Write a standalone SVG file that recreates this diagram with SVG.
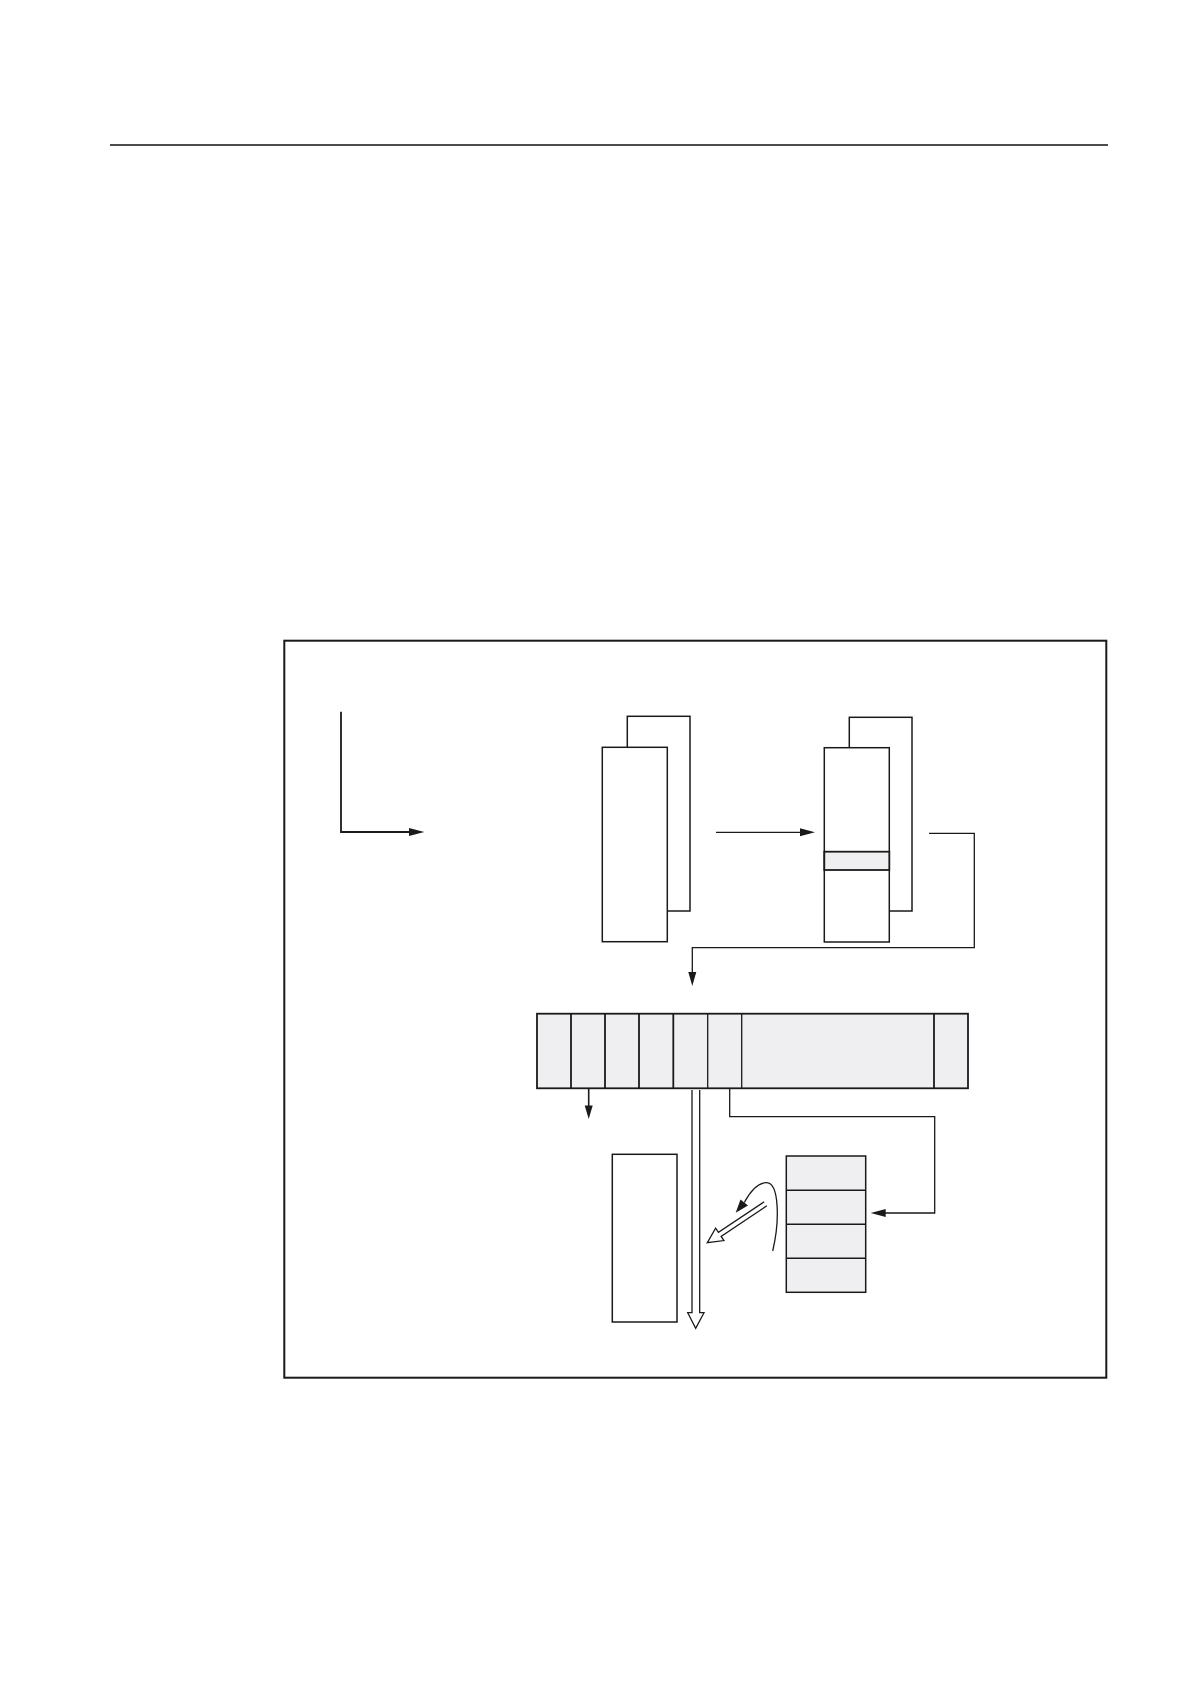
<svg xmlns="http://www.w3.org/2000/svg" width="1190" height="1684" viewBox="0 0 1190 1684">
<style>
.ln{fill:none;stroke:#1a1a1a;stroke-width:1.3}
.bx{fill:#fff;stroke:#1a1a1a;stroke-width:1.5}
.gr{fill:#efeff1;stroke:#1a1a1a;stroke-width:1.8}
.ah{fill:#1a1a1a;stroke:none}
.ho{fill:#fff;stroke:#1a1a1a;stroke-width:1.3;stroke-linejoin:miter}
</style>
<rect width="1190" height="1684" fill="#fff"/>
<line x1="110" y1="145" x2="1108" y2="145" stroke="#111" stroke-width="1.6"/>
<rect id="frame" x="284.3" y="640.7" width="822" height="737" fill="none" stroke="#1a1a1a" stroke-width="2"/>

<g id="stack-left">
<rect x="627.3" y="716.3" width="62.7" height="194.7" class="bx"/>
<rect x="602.3" y="747.3" width="65" height="194.4" class="bx"/>
</g>
<g id="stack-right">
<rect x="849.3" y="717.3" width="62.7" height="193.7" class="bx"/>
<rect x="824.3" y="747.7" width="65" height="194.3" class="bx"/>
<rect x="824.3" y="851.7" width="65" height="18.3" class="gr"/>
</g>
<g id="register">
<rect x="537" y="1013.7" width="431" height="74.6" class="gr"/>
<line x1="571" y1="1013.7" x2="571" y2="1088.3" class="gr"/>
<line x1="605" y1="1013.7" x2="605" y2="1088.3" class="gr"/>
<line x1="639" y1="1013.7" x2="639" y2="1088.3" class="gr"/>
<line x1="673.3" y1="1013.7" x2="673.3" y2="1088.3" class="gr"/>
<line x1="707.7" y1="1013.7" x2="707.7" y2="1088.3" class="gr" style="stroke-width:1.3"/>
<line x1="741.7" y1="1013.7" x2="741.7" y2="1088.3" class="gr" style="stroke-width:1.3"/>
<line x1="934" y1="1013.7" x2="934" y2="1088.3" class="gr"/>
</g>
<g id="box-lower">
<rect x="612.3" y="1154.3" width="64.7" height="167.7" class="bx"/>
</g>
<g id="table">
<rect x="786.3" y="1156" width="79.4" height="136.3" class="gr" style="stroke-width:1.5"/>
<line x1="786.3" y1="1190.3" x2="865.7" y2="1190.3" class="gr" style="stroke-width:1.5"/>
<line x1="786.3" y1="1224.3" x2="865.7" y2="1224.3" class="gr" style="stroke-width:1.5"/>
<line x1="786.3" y1="1258.3" x2="865.7" y2="1258.3" class="gr" style="stroke-width:1.5"/>
</g>

<g id="connectors">
<polyline points="341,711.7 341,832 410,832" class="ln" style="stroke-width:1.8"/>
<polygon points="424.3,832 409,828 409,836" class="ah"/>
<line x1="716" y1="832.3" x2="801" y2="832.3" class="ln"/>
<polygon points="815,832.3 800,828.3 800,836.3" class="ah"/>
<polyline points="929,833.3 974.3,833.3 974.3,947.7 692.3,947.7 692.3,973" class="ln"/>
<polygon points="692.3,986 688.3,972 696.3,972" class="ah"/>
<line x1="588.7" y1="1088.3" x2="588.7" y2="1107" class="ln" style="stroke-width:1.6"/>
<polygon points="588.7,1119 584.7,1105.5 592.7,1105.5" class="ah"/>
<polyline points="729.7,1088.3 729.7,1116.7 934.7,1116.7 934.7,1213 884,1213" class="ln"/>
<polygon points="870.7,1213 885.7,1209 885.7,1217" class="ah"/>
<polyline points="692,1090 692,1312.7 687.7,1312.7 695.7,1328.3 704,1312.7 699.7,1312.7 699.7,1090" class="ho"/>
<polyline transform="translate(707.3,1242.7) rotate(-33.75)" points="70,-2.4 15,-2.4 15,-7.5 0,0 15,7.5 15,2.4 70,2.4" class="ho"/>
<path d="M772.7,1251 C780,1220 779,1183 766.7,1182.7 C758,1182.5 750,1192 744.3,1202.5" class="ln"/>
<polygon points="735.7,1212.7 740.5,1199.5 748,1205.5" class="ah"/>
</g>
</svg>
